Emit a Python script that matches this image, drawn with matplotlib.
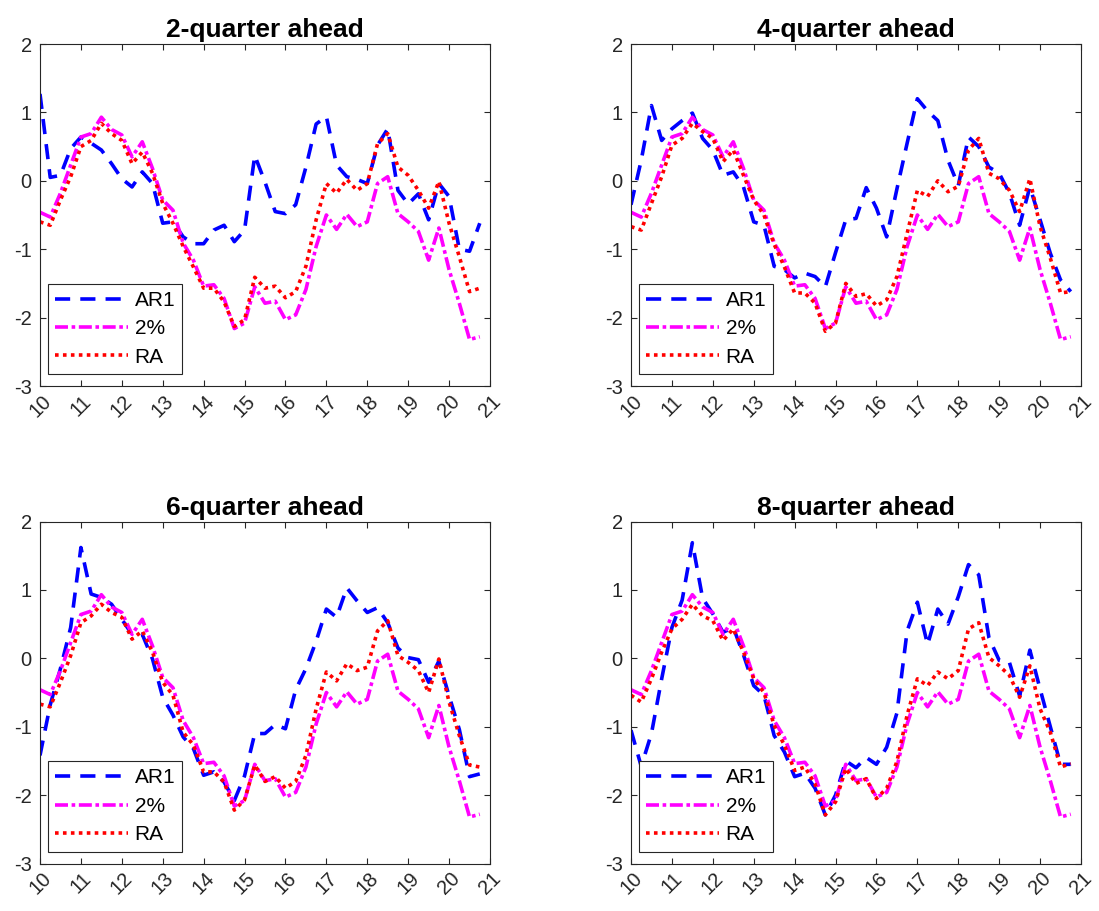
import numpy as np
import matplotlib
matplotlib.use("Agg")
import matplotlib.pyplot as plt

plt.rcParams['font.family'] = ['Liberation Sans', 'DejaVu Sans']
plt.rcParams['axes.unicode_minus'] = False

# quarterly dates, 2010Q1 .. 2020Q4 (years as 2-digit numbers)
quarters = np.arange(10, 21, 0.25)

titles = ["2-quarter ahead", "4-quarter ahead", "6-quarter ahead", "8-quarter ahead"]
labels = ["AR1", "2%", "RA"]

# 2% target version (same in every panel)
gap_2pct = [-0.46, -0.53, -0.18, 0.23, 0.64, 0.69, 0.93, 0.75, 0.67, 0.35, 0.57,
            0.18, -0.28, -0.43, -0.91, -1.16, -1.54, -1.52, -1.72, -2.16, -2.08,
            -1.55, -1.79, -1.76, -2.03, -1.96, -1.59, -0.96, -0.5, -0.71, -0.49,
            -0.67, -0.6, -0.04, 0.06, -0.48, -0.6, -0.74, -1.16, -0.69, -1.3,
            -1.79, -2.32, -2.28]

# AR1 version for each horizon
ar1_h2 = [1.27, 0.05, 0.08, 0.47, 0.64, 0.55, 0.45, 0.25, 0.03, -0.09, 0.13,
          -0.04, -0.62, -0.6, -0.82, -0.92, -0.92, -0.72, -0.65, -0.89, -0.72,
          0.37, -0.02, -0.45, -0.48, -0.35, 0.2, 0.83, 0.94, 0.23, 0.06,
          0.02, -0.04, 0.52, 0.76, -0.14, -0.34, -0.19, -0.57, -0.04, -0.23,
          -1.0, -1.03, -0.62]
ar1_h4 = [-0.35, 0.3, 1.1, 0.59, 0.76, 0.88, 0.99, 0.62, 0.45, 0.08, 0.13,
          -0.09, -0.6, -0.65, -1.25, -1.3, -1.42, -1.35, -1.4, -1.55, -1.05,
          -0.57, -0.55, -0.1, -0.4, -0.82, -0.12, 0.55, 1.2, 1.02, 0.88,
          0.3, -0.07, 0.64, 0.5, 0.2, 0.11, -0.18, -0.65, -0.09, -0.57,
          -1.06, -1.45, -1.62]
ar1_h6 = [-1.42, -0.68, -0.15, 0.45, 1.62, 0.94, 0.89, 0.79, 0.57, 0.35, 0.35,
          -0.01, -0.57, -0.83, -1.15, -1.32, -1.71, -1.66, -1.81, -2.08, -1.72,
          -1.1, -1.1, -0.97, -1.03, -0.46, -0.15, 0.25, 0.72, 0.6, 1.03,
          0.84, 0.67, 0.74, 0.52, 0.15, 0.01, -0.02, -0.35, -0.04, -0.55,
          -1.04, -1.73, -1.69]
ar1_h8 = [-1.05, -1.58, -1.1, -0.3, 0.45, 0.85, 1.69, 0.88, 0.65, 0.38, 0.45,
          0.05, -0.4, -0.54, -1.13, -1.37, -1.73, -1.68, -1.9, -2.29, -2.0,
          -1.5, -1.6, -1.45, -1.55, -1.3, -0.8, 0.4, 0.82, 0.2, 0.72,
          0.5, 0.9, 1.37, 1.22, 0.3, -0.03, -0.06, -0.55, 0.12, -0.45,
          -1.0, -1.55, -1.55]

# RA version for each horizon
ra_h2 = [-0.6, -0.65, -0.28, 0.06, 0.5, 0.59, 0.84, 0.69, 0.59, 0.25, 0.42,
         0.11, -0.33, -0.62, -0.96, -1.26, -1.57, -1.57, -1.77, -2.13, -2.03,
         -1.41, -1.57, -1.54, -1.71, -1.62, -1.25, -0.57, -0.04, -0.18, 0.02,
         -0.14, -0.04, 0.54, 0.69, 0.2, 0.08, -0.14, -0.4, -0.01, -0.62,
         -1.11, -1.62, -1.57]
ra_h4 = [-0.67, -0.72, -0.33, 0.06, 0.52, 0.62, 0.84, 0.72, 0.62, 0.28, 0.45,
         0.08, -0.28, -0.5, -0.93, -1.26, -1.64, -1.64, -1.79, -2.2, -2.08,
         -1.5, -1.69, -1.65, -1.83, -1.74, -1.4, -0.77, -0.14, -0.23, 0.0,
         -0.16, -0.08, 0.45, 0.62, 0.11, 0.03, -0.14, -0.45, 0.03, -0.67,
         -1.13, -1.64, -1.62]
ra_h6 = [-0.67, -0.71, -0.35, 0.04, 0.52, 0.62, 0.79, 0.67, 0.6, 0.28, 0.4,
         0.09, -0.35, -0.54, -1.08, -1.27, -1.66, -1.66, -1.81, -2.22, -2.07,
         -1.56, -1.8, -1.73, -1.9, -1.8, -1.42, -0.74, -0.2, -0.33, -0.08,
         -0.18, -0.13, 0.4, 0.55, 0.04, -0.06, -0.18, -0.5, -0.01, -0.64,
         -1.13, -1.56, -1.59]
ra_h8 = [-0.54, -0.64, -0.3, 0.09, 0.43, 0.57, 0.79, 0.62, 0.55, 0.26, 0.43,
         0.09, -0.3, -0.5, -0.98, -1.27, -1.64, -1.59, -1.84, -2.29, -2.1,
         -1.61, -1.83, -1.76, -2.05, -1.9, -1.51, -0.83, -0.3, -0.4, -0.2,
         -0.3, -0.18, 0.43, 0.52, 0.01, -0.11, -0.25, -0.57, -0.11, -0.74,
         -1.08, -1.59, -1.54]

ar1_all = [ar1_h2, ar1_h4, ar1_h6, ar1_h8]
ra_all = [ra_h2, ra_h4, ra_h6, ra_h8]

# axes rectangles in figure fractions (left, bottom, width, height)
W, H = 1099, 911
rects = [(40 / W, (H - 386) / H, 450 / W, 342 / H),
         (631 / W, (H - 386) / H, 450 / W, 342 / H),
         (40 / W, (H - 863.5) / H, 450 / W, 342 / H),
         (631 / W, (H - 863.5) / H, 450 / W, 342 / H)]

grey = (0.15, 0.15, 0.15)
lw = 2.6

fig = plt.figure(figsize=(W / 100, H / 100), dpi=100)

for k in range(4):
    ax = fig.add_axes(rects[k])
    ax.plot(quarters, ar1_all[k], color=(0, 0, 1), lw=lw, dashes=(4.2, 2.8),
            dash_capstyle='butt', label=labels[0])
    ax.plot(quarters, gap_2pct, color=(1, 0, 1), lw=lw, dashes=(3.6, 1.0, 1.0, 1.0),
            dash_capstyle='butt', label=labels[1])
    ax.plot(quarters, ra_all[k], color=(1, 0, 0), lw=lw, dashes=(1.0, 1.2),
            dash_capstyle='butt', label=labels[2])

    ax.set_xlim(10, 21)
    ax.set_ylim(-3, 2)
    ax.set_xticks(np.arange(10, 22, 1))
    ax.set_yticks(np.arange(-3, 3, 1))
    ax.set_xticklabels([str(v) for v in range(10, 22)], rotation=45, ha='center')
    ax.tick_params(direction='in', length=4, width=0.8, labelsize=14.5,
                   colors=grey, top=True, right=True)
    ax.tick_params(axis='x', pad=4)
    ax.tick_params(axis='y', pad=6)
    for s in ax.spines.values():
        s.set_color(grey)
        s.set_linewidth(0.8)
    ax.set_title(titles[k], fontsize=19, fontweight='bold', pad=5)

    leg = ax.legend(loc='lower left', bbox_to_anchor=(0.018, 0.035), borderaxespad=0,
                    fontsize=15, handlelength=3.5, handletextpad=0.3,
                    labelspacing=0.45, borderpad=0.35, fancybox=False,
                    framealpha=1, edgecolor=grey)
    leg.get_frame().set_linewidth(0.8)

fig.savefig("out.png", dpi=100)
